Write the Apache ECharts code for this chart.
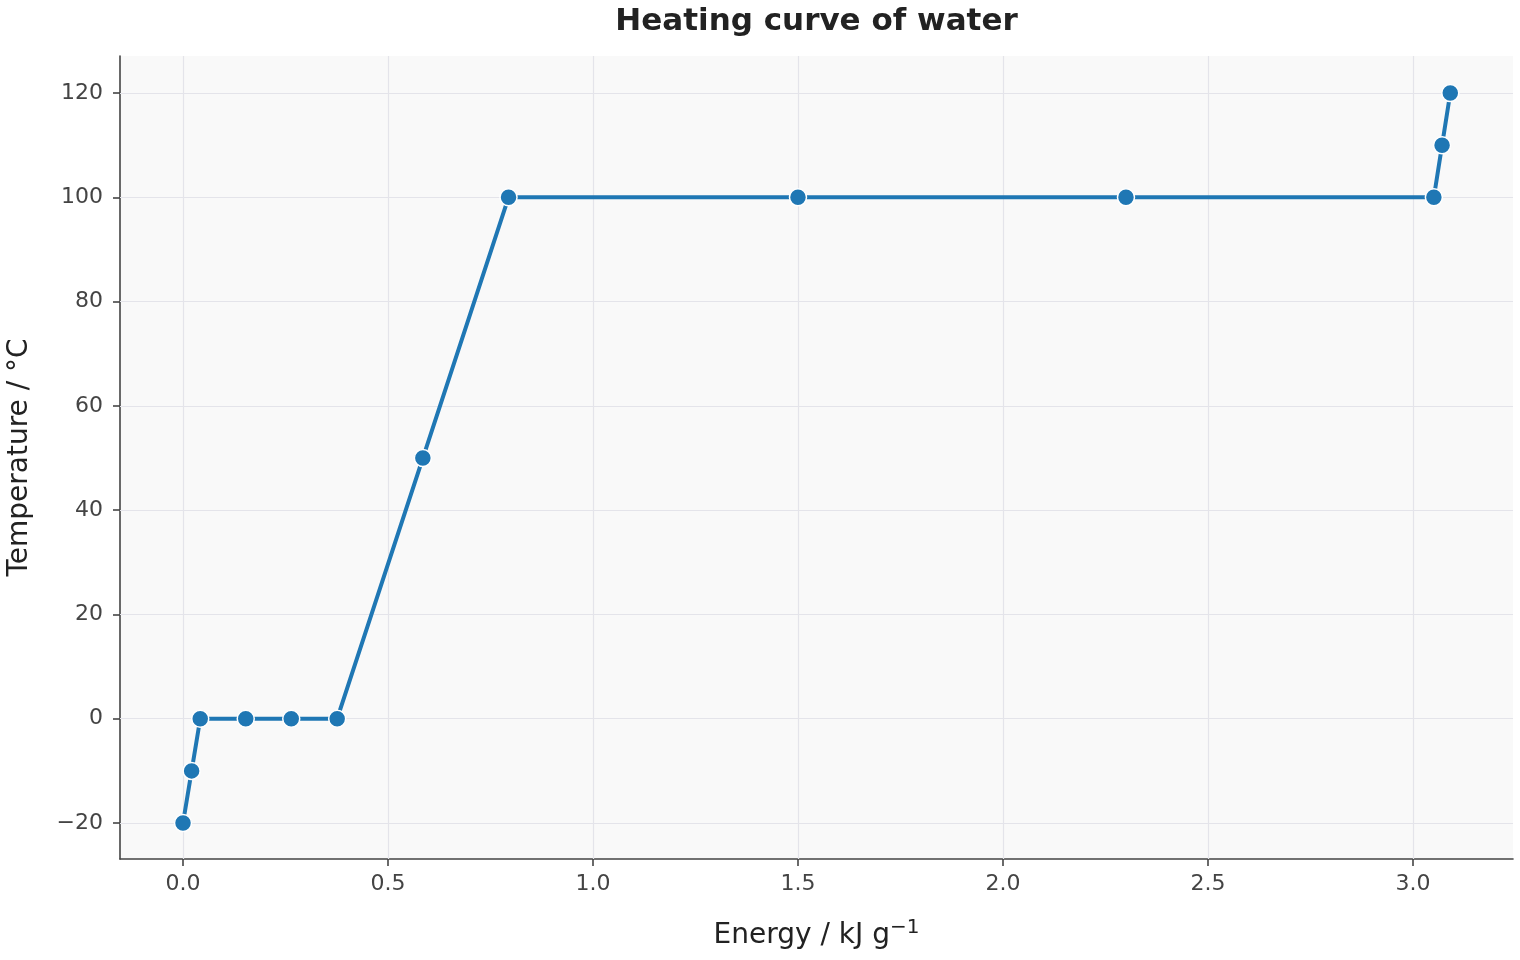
<!DOCTYPE html>
<html>
<head>
<meta charset="utf-8">
<script src="https://cdn.jsdelivr.net/npm/echarts@6/dist/echarts.min.js"></script>
<style>html,body{margin:0;padding:0;background:#fff}#c{width:1520px;height:960px}</style>
</head>
<body>
<div id="c"></div>
<script>
const energy = [0, 0.021, 0.042, 0.153, 0.264, 0.376, 0.585, 0.794, 1.5, 2.3, 3.051, 3.071, 3.091];
const temperature = [-20, -10, 0, 0, 0, 0, 50, 100, 100, 100, 100, 110, 120];
const xTicks = [0, 0.5, 1.0, 1.5, 2.0, 2.5, 3.0];
const yTicks = [-20, 0, 20, 40, 60, 80, 100, 120];
const titleText = 'Heating curve of water';

const chart = echarts.init(document.getElementById('c'));
const font = 'DejaVu Sans';
const axisColor = '#444';
const gridColor = '#e4e4ea';

// center title over plot area
const gridLeft = 120, gridRight = 7;
const cv = document.createElement('canvas').getContext('2d');
cv.font = 'bold 31px "DejaVu Sans"';
const titleW = cv.measureText(titleText).width;
const plotCenter = gridLeft + (1520 - gridLeft - gridRight) / 2;

const gridLines = [];
xTicks.forEach(v => gridLines.push({ xAxis: v }));
yTicks.forEach(v => gridLines.push({ yAxis: v }));

chart.setOption({
  animation: false,
  title: {
    text: titleText,
    padding: 0,
    left: plotCenter - titleW / 2, top: 6,
    textStyle: { fontFamily: font, fontSize: 31, fontWeight: 'bold', color: '#222' }
  },
  grid: {
    left: gridLeft, right: gridRight, top: 56, bottom: 101,
    containLabel: false, outerBoundsMode: 'none',
    show: true, backgroundColor: '#f9f9f9', borderWidth: 0
  },
  xAxis: {
    type: 'value',
    min: -0.1537, max: 3.244,
    name: 'Energy / kJ g{s|\u22121}',
    nameLocation: 'middle', nameGap: 59,
    nameTextStyle: {
      fontFamily: font, fontSize: 28, color: '#222',
      rich: { s: { fontFamily: font, fontSize: 20, color: '#222', padding: [0, 0, 15, 0] } }
    },
    axisLine: { show: true, onZero: false, lineStyle: { color: axisColor, width: 1.6 } },
    axisTick: { show: true, length: 7, customValues: xTicks, lineStyle: { color: axisColor, width: 1.6 } },
    axisLabel: { customValues: xTicks, fontFamily: font, fontSize: 22, color: '#444', margin: 14,
      formatter: v => v.toFixed(1) },
    splitLine: { show: false }
  },
  yAxis: {
    type: 'value',
    min: -26.9, max: 127.1,
    name: 'Temperature / \u00B0C',
    nameLocation: 'middle', nameGap: 86,
    nameTextStyle: { fontFamily: font, fontSize: 28, color: '#222' },
    axisLine: { show: true, onZero: false, lineStyle: { color: axisColor, width: 1.6 } },
    axisTick: { show: true, length: 7, customValues: yTicks, lineStyle: { color: axisColor, width: 1.6 } },
    axisLabel: { customValues: yTicks, fontFamily: font, fontSize: 22, color: '#444', margin: 17,
      formatter: v => (v < 0 ? '\u2212' + Math.abs(v) : String(v)) },
    splitLine: { show: false }
  },
  series: [
    {
      type: 'line',
      data: [],
      z: 1,
      silent: true,
      markLine: {
        silent: true,
        z: 1,
        symbol: ['none', 'none'],
        label: { show: false },
        lineStyle: { color: gridColor, width: 1.2, type: 'solid' },
        emphasis: { disabled: true },
        data: gridLines,
        animation: false
      }
    },
    {
      type: 'line',
      z: 3,
      data: energy.map((e, i) => [e, temperature[i]]),
      symbol: 'circle',
      symbolSize: 17,
      showAllSymbol: true,
      lineStyle: { color: '#1f77b4', width: 4 },
      itemStyle: { color: '#1f77b4', borderColor: '#fff', borderWidth: 1.5 },
      emphasis: { disabled: true }
    }
  ]
});
</script>
</body>
</html>
